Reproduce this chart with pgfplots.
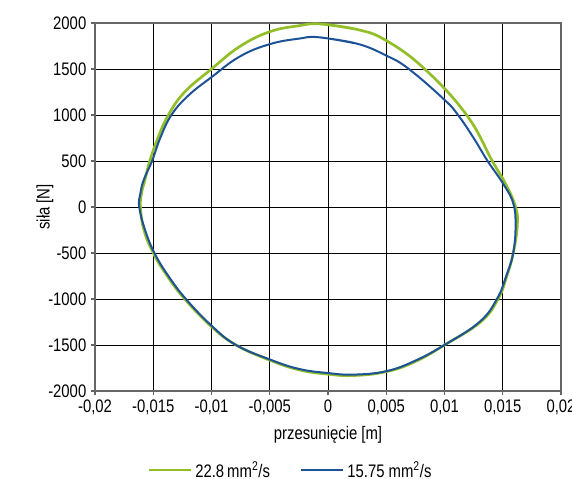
\documentclass[border=0pt]{standalone}
\usepackage{pgfplots}
\pgfplotsset{compat=1.18}
\usepackage{fontspec}
\setmainfont{Liberation Sans}[FakeStretch=0.82]
\definecolor{lgreen}{RGB}{146,190,40}
\definecolor{dblue}{RGB}{30,82,150}
\newcommand\cf{\fontsize{13.6}{16}\selectfont}

\begin{document}
\begin{tikzpicture}
\begin{axis}[
	scale only axis,
	width=349.5pt, height=276pt,
	xmin=-0.02, xmax=0.02, ymin=-2000, ymax=2000,
	xtick={-0.02,-0.015,...,0.0201}, ytick={-2000,-1500,...,2000},
	scaled x ticks=false,
	/pgf/number format/.cd, assume math mode=true, use comma, fixed, precision=3, 1000 sep={}, /pgfplots/.cd,
	grid=major, major grid style={black, line width=0.6pt},
	axis line style={gray!80!black, line width=0.9pt},
	tick align=outside, major tick length=3pt, tick style={gray!80!black, line width=0.8pt},
	xtick pos=bottom, ytick pos=left,
	tick label style={font=\cf}, label style={font=\cf},
	xlabel={przesunięcie [m]}, ylabel={siła [N]},
	xlabel style={at={(axis description cs:0.5,-0.1196)}, anchor=center},
	ylabel style={at={(axis description cs:-0.1073,0.5)}, anchor=center},
	legend columns=2,
	legend style={draw=none, font=\cf, at={(0.42,-0.215)}, anchor=center,
		/tikz/every even column/.append style={column sep=20pt}},
	legend image code/.code={\draw[#1, line width=2pt] (0pt,0pt) -- (32pt,0pt);},
]
% 22.8 mm2/s
\addplot[lgreen, line width=2pt, smooth, tension=0.7] coordinates {
(-0.0007,1990) (0.0025,1930) (0.005,1809) (0.0083,1500) (0.0119,1000)
(0.0141,500) (0.01525,250) (0.0161,0) (0.01625,-200) (0.0159,-500)
(0.01535,-750) (0.0146,-1000) (0.0131,-1250) (0.0100,-1500) (0.0075,-1680)
(0.005,-1790) (0.0022,-1832) (0.0,-1817) (-0.0025,-1770) (-0.005,-1665)
(-0.0079,-1500) (-0.010,-1300) (-0.0123,-1000) (-0.0138,-750) (-0.0150,-500)
(-0.0158,-250) (-0.0161,0) (-0.0160,150) (-0.0157,300) (-0.0153,500)
(-0.0146,750) (-0.0137,1000) (-0.0123,1250) (-0.0100,1500) (-0.00758,1744)
(-0.005,1905) (-0.0025,1970) (-0.0007,1990) (0.0025,1930)
};
\addlegendentry{22.8\,mm\textsuperscript{2}/s}
% 15.75 mm2/s
\addplot[dblue, line width=1.5pt, smooth, tension=0.7] coordinates {
(-0.0008,1845) (0.0025,1775) (0.005,1646) (0.00694,1500) (0.010,1165)
(0.01116,1000) (0.0125,750) (0.0137,500) (0.01505,250) (0.0159,40) (0.0161,-200)
(0.0159,-500) (0.0153,-750) (0.0145,-1000) (0.0130,-1250) (0.0100,-1500)
(0.0075,-1670) (0.005,-1785) (0.0022,-1822) (0.0,-1805) (-0.0025,-1760)
(-0.005,-1657) (-0.0079,-1500) (-0.010,-1290) (-0.0122,-1000) (-0.0137,-750)
(-0.0149,-500) (-0.0157,-250) (-0.0162,0) (-0.0161,150) (-0.0158,300)
(-0.0151,500) (-0.0144,750) (-0.01344,1000) (-0.0120,1210) (-0.0100,1411)
(-0.00758,1635) (-0.005,1770) (-0.0025,1830) (-0.0008,1845) (0.0025,1775)
};
\addlegendentry{15.75 mm\textsuperscript{2}/s}
\end{axis}
\pgfresetboundingbox
\path ([xshift=-71.25pt, yshift=-66pt]current axis.south west) rectangle ([xshift=8.25pt, yshift=17.25pt]current axis.north east);
\end{tikzpicture}
\end{document}
